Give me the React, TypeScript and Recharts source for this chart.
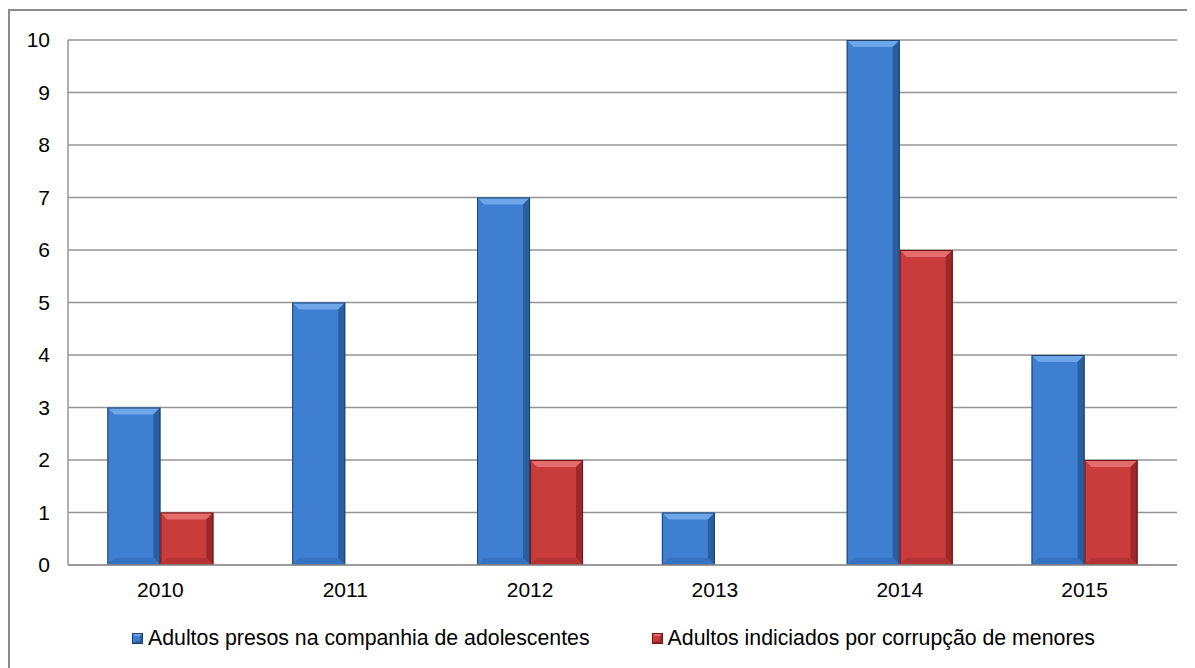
import { BarChart, Bar, XAxis, YAxis, CartesianGrid, Legend } from 'recharts'

const years = ['2010', '2011', '2012', '2013', '2014', '2015']
const adultosPresos = [3, 5, 7, 1, 10, 4]
const adultosIndiciados = [1, 0, 2, 0, 6, 2]
const yTicks = [0, 1, 2, 3, 4, 5, 6, 7, 8, 9, 10]

const SERIES = [
  { key: 'presos', name: 'Adultos presos na companhia de adolescentes', base: '#3f7fd2', light: '#6ea6ea', mid: '#3572c2', dark: '#2a5f9f', edge: '#1d416f' },
  { key: 'indiciados', name: 'Adultos indiciados por corrupção de menores', base: '#c93c3c', light: '#e46c6c', mid: '#b63333', dark: '#9c2828', edge: '#6e1717' },
]

const data = years.map((year, i) => ({
  year,
  presos: adultosPresos[i],
  indiciados: adultosIndiciados[i],
}))

const FONT = '"Liberation Sans", Arial, sans-serif'
const GRID = '#949494'

// bevelled bar, looks like the old Excel "bevel" effect
const bevelShape = (s: typeof SERIES[number]) => (props: any) => {
  const { x, y, width, height } = props
  if (!height || height <= 0) return <g />
  const b = Math.min(7, height / 2, width / 2)
  return (
    <g>
      <rect x={x} y={y} width={width} height={height} fill={s.base} />
      <polygon points={`${x},${y} ${x + width},${y} ${x + width - b},${y + b} ${x + b},${y + b}`} fill={s.light} />
      <polygon points={`${x + width},${y} ${x + width - b},${y + b} ${x + width - b},${y + height - b} ${x + width},${y + height}`} fill={s.dark} />
      <polygon points={`${x},${y + height} ${x + b},${y + height - b} ${x + width - b},${y + height - b} ${x + width},${y + height}`} fill={s.mid} />
      <rect x={x + 0.5} y={y + 0.5} width={width - 1} height={height - 1} fill="none" stroke={s.edge} strokeWidth={1} />
    </g>
  )
}

const LegendIcon = ({ s }: { s: typeof SERIES[number] }) => (
  <svg width={11} height={11} style={{ marginRight: 5, flexShrink: 0 }}>
    <rect x={0} y={0} width={11} height={11} fill={s.base} />
    <polygon points="0,0 11,0 8,3 3,3" fill={s.light} />
    <polygon points="11,0 8,3 8,8 11,11" fill={s.dark} />
    <polygon points="0,11 3,8 8,8 11,11" fill={s.dark} />
    <rect x={0.5} y={0.5} width={10} height={10} fill="none" stroke={s.edge} />
  </svg>
)

const renderLegend = () => (
  <div style={{ display: 'flex', alignItems: 'center', height: 40, marginLeft: 122, fontFamily: FONT, fontSize: 21.3, color: '#000' }}>
    {SERIES.map((s, i) => (
      <div key={s.key} style={{ display: 'flex', alignItems: 'center', marginRight: i === 0 ? 62 : 0 }}>
        <LegendIcon s={s} />
        <span>{s.name}</span>
      </div>
    ))}
  </div>
)

export default function App() {
  return (
    <div style={{ marginTop: 1, borderTop: '2px solid #8c8c8c', borderLeft: '2px solid #8c8c8c', width: 1185, height: 657, background: '#fff' }}>
      <BarChart
        width={1185}
        height={657}
        data={data}
        margin={{ top: 29, right: 18, left: 0, bottom: 10 }}
        barCategoryGap="21.3%"
        barGap={0}
      >
        <CartesianGrid vertical={false} stroke={GRID} strokeWidth={1.5} />
        <XAxis
          dataKey="year"
          height={53}
          tickLine={false}
          tickMargin={11}
          axisLine={{ stroke: GRID, strokeWidth: 1.5 }}
          tick={{ fill: '#000', fontSize: 21, fontFamily: FONT }}
        />
        <YAxis
          width={58}
          domain={[0, 10]}
          ticks={yTicks}
          interval={0}
          tickLine={false}
          tickMargin={12}
          axisLine={{ stroke: GRID, strokeWidth: 1.5 }}
          tick={{ fill: '#000', fontSize: 21, fontFamily: FONT }}
        />
        <Legend verticalAlign="bottom" height={40} content={renderLegend} />
        {SERIES.map((s) => (
          <Bar key={s.key} dataKey={s.key} name={s.name} fill={s.base} shape={bevelShape(s)} isAnimationActive={false} />
        ))}
      </BarChart>
    </div>
  )
}
